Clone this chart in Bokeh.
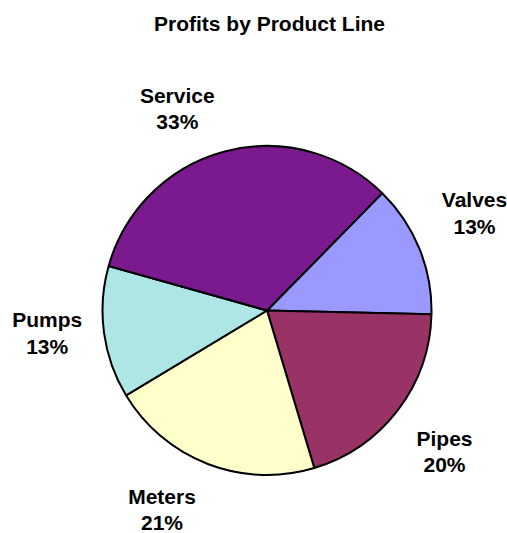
import numpy as np
from bokeh.plotting import figure
from bokeh.models import Range1d, ColumnDataSource
from bokeh.core.properties import value
from bokeh.embed import file_html
from bokeh.resources import INLINE

# data
categories = ["Valves", "Pipes", "Meters", "Pumps", "Service"]
percents = [13, 20, 21, 13, 33]
colors = ["#9999FF", "#993366", "#FFFFCC", "#AEE6E6", "#7A1A8E"]
title_text = "Profits by Product Line"

# layout (page pixels, y downward)
W, H = 507, 533
cx_page, cy_page, R = 266.5, 310.0, 164.5
start_deg = 45.5
label_pos = {  # center x, first-line middle y, second-line middle y
    "Valves": (474, 199, 226),
    "Pipes": (444, 438, 464),
    "Meters": (161.5, 496, 521.5),
    "Pumps": (46.7, 319.2, 346),
    "Service": (176.8, 94.5, 121),
}


def py(y):
    return H - y


vals = np.array(percents, dtype=float)
frac = vals / vals.sum()
ends = np.cumsum(frac) * 2 * np.pi
starts = np.concatenate([[0.0], ends[:-1]])
s0 = np.deg2rad(start_deg)
src = ColumnDataSource(dict(
    start=s0 - starts,
    end=s0 - ends,
    color=colors,
    cat=categories,
))

p = figure(width=W, height=H, output_backend="svg", toolbar_location=None,
           x_range=Range1d(0, W), y_range=Range1d(0, H), min_border=0)
p.axis.visible = False
p.grid.visible = False
p.outline_line_color = None

p.wedge(x=cx_page, y=py(cy_page), radius=R, start_angle="start", end_angle="end",
        direction="clock", fill_color="color", line_color="black", line_width=2,
        source=src)

font = value("Liberation Sans")
lx, ly1, ly2, t1, t2 = [], [], [], [], []
for c, v in zip(categories, percents):
    x, y1, y2 = label_pos[c]
    lx.append(x)
    ly1.append(py(y1))
    ly2.append(py(y2))
    t1.append(c)
    t2.append(f"{v}%")
p.text(x=lx, y=ly1, text=t1, text_font=font, text_font_style="bold",
       text_font_size="21px", text_align="center", text_baseline="middle",
       text_color="black")
p.text(x=lx, y=ly2, text=t2, text_font=font, text_font_style="bold",
       text_font_size="21px", text_align="center", text_baseline="middle",
       text_color="black")

p.text(x=[269], y=[py(23.3)], text=[title_text], text_font=font,
       text_font_style="bold", text_font_size="21px", text_align="center",
       text_baseline="middle", text_color="black")

open("out.html", "w").write(file_html(p, INLINE))
